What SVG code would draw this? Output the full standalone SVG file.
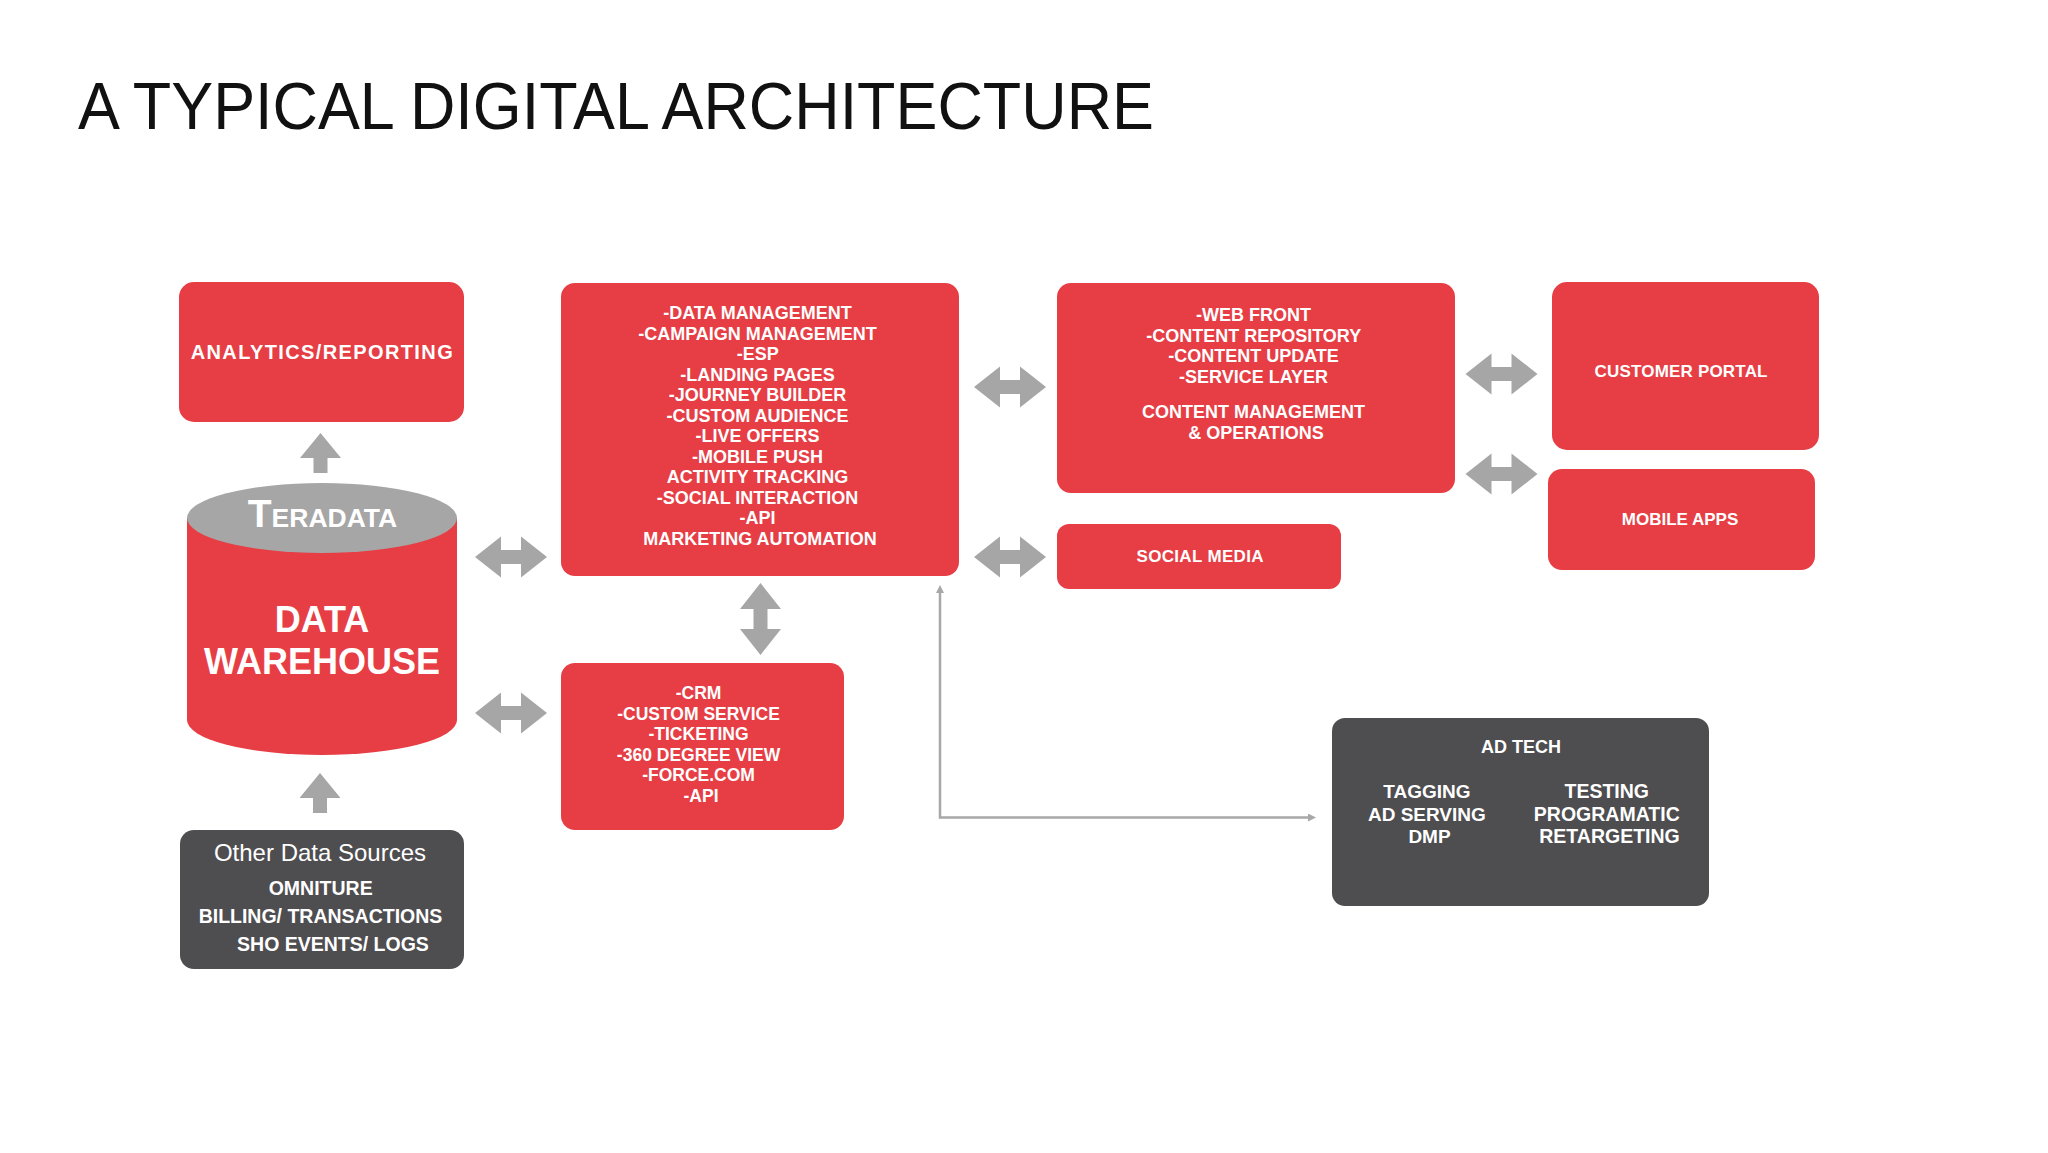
<svg xmlns="http://www.w3.org/2000/svg" width="2048" height="1153" viewBox="0 0 2048 1153">
<defs>
<style>
.red{fill:#E63E44;}
.dark{fill:#4E4D50;}
.arr{fill:#A6A6A6;}
.t{font-family:"Liberation Sans",Arial,sans-serif;font-weight:bold;fill:#FFFFFF;text-anchor:middle;}
.r{font-family:"Liberation Sans",Arial,sans-serif;font-weight:normal;fill:#FFFFFF;text-anchor:middle;}
.thin{fill:none;stroke:#A8A8A8;stroke-width:2.5;}
</style>
<path id="dbl" d="M-36,0 L-10,-20.5 L-10,-7 L10,-7 L10,-20.5 L36,0 L10,20.5 L10,7 L-10,7 L-10,20.5 Z"/>
<path id="up" d="M0,0 L20.5,25 L7,25 L7,40 L-7,40 L-7,25 L-20.5,25 Z"/>
<marker id="tri" viewBox="0 0 10 10" refX="0" refY="4" markerWidth="10" markerHeight="10" markerUnits="userSpaceOnUse" orient="auto-start-reverse">
<path d="M0,0 L8,4 L0,8 Z" fill="#A8A8A8"/>
</marker>
</defs>
<rect x="0" y="0" width="2048" height="1153" fill="#FFFFFF"/>

<text id="title" x="78" y="129" font-family="'Liberation Sans',Arial,sans-serif" font-size="66" fill="#111111" textLength="1076" lengthAdjust="spacingAndGlyphs">A TYPICAL DIGITAL ARCHITECTURE</text>

<g id="connectors">
<use href="#up" class="arr" x="320.5" y="433"/>
<use href="#up" class="arr" x="320" y="773"/>
<use href="#dbl" class="arr" x="511" y="557"/>
<use href="#dbl" class="arr" x="511" y="713"/>
<use href="#dbl" class="arr" x="1010" y="387"/>
<use href="#dbl" class="arr" x="1010" y="557"/>
<use href="#dbl" class="arr" x="1501.5" y="374"/>
<use href="#dbl" class="arr" x="1501.5" y="474"/>
<use href="#dbl" class="arr" transform="translate(760.5,619) rotate(90)"/>
<path class="thin" d="M940,593 L940,817.5 L1308,817.5" marker-start="url(#tri)" marker-end="url(#tri)"/>
</g>

<g id="analytics">
<rect class="red" x="179" y="282" width="285" height="140" rx="15"/>
<text class="t" x="321.7" y="359" font-size="20" textLength="262">ANALYTICS/REPORTING</text>
</g>

<g id="warehouse">
<path class="red" d="M187,518 L187,720 A135,35 0 0 0 457,720 L457,518 Z"/>
<ellipse cx="322" cy="518" rx="135" ry="35" fill="#A6A6A6"/>
<text class="t" x="322.5" y="527"><tspan font-size="39">T</tspan><tspan font-size="26.5">ERADATA</tspan></text>
<text class="t" x="322" y="632" font-size="36">DATA</text>
<text class="t" x="322" y="674" font-size="36">WAREHOUSE</text>
</g>

<g id="other-sources">
<rect class="dark" x="180" y="830" width="284" height="139" rx="14"/>
<text class="r" x="320" y="861" font-size="24">Other Data Sources</text>
<text class="t" x="320.7" y="895" font-size="19.5">OMNITURE</text>
<text class="t" x="320.5" y="923" font-size="19.5">BILLING/ TRANSACTIONS</text>
<text class="t" x="333" y="951" font-size="19.5">SHO EVENTS/ LOGS</text>
</g>

<g id="marketing">
<rect class="red" x="561" y="283" width="398" height="293" rx="14"/>
<text class="t" font-size="18">
<tspan x="760" y="319.3">-DATA MANAGEMENT</tspan>
<tspan x="760" y="339.8">-CAMPAIGN MANAGEMENT</tspan>
<tspan x="760" y="360.3">-ESP</tspan>
<tspan x="760" y="380.8">-LANDING PAGES</tspan>
<tspan x="760" y="401.3">-JOURNEY BUILDER</tspan>
<tspan x="760" y="421.8">-CUSTOM AUDIENCE</tspan>
<tspan x="760" y="442.3">-LIVE OFFERS</tspan>
<tspan x="760" y="462.8">-MOBILE PUSH</tspan>
<tspan x="760" y="483.3">ACTIVITY TRACKING</tspan>
<tspan x="760" y="503.8">-SOCIAL INTERACTION</tspan>
<tspan x="760" y="524.3">-API</tspan>
<tspan x="760" y="544.8">MARKETING AUTOMATION</tspan>
</text>
</g>

<g id="crm">
<rect class="red" x="561" y="663" width="283" height="167" rx="14"/>
<text class="t" font-size="17.5">
<tspan x="701" y="699">-CRM</tspan>
<tspan x="701" y="719.5">-CUSTOM SERVICE</tspan>
<tspan x="701" y="740">-TICKETING</tspan>
<tspan x="701" y="760.5">-360 DEGREE VIEW</tspan>
<tspan x="701" y="781">-FORCE.COM</tspan>
<tspan x="701" y="801.5">-API</tspan>
</text>
</g>

<g id="cms">
<rect class="red" x="1057" y="283" width="398" height="210" rx="14"/>
<text class="t" font-size="18">
<tspan x="1256" y="321.4">-WEB FRONT</tspan>
<tspan x="1256" y="342">-CONTENT REPOSITORY</tspan>
<tspan x="1256" y="362.3">-CONTENT UPDATE</tspan>
<tspan x="1256" y="382.7">-SERVICE LAYER</tspan>
<tspan x="1256" y="418">CONTENT MANAGEMENT</tspan>
<tspan x="1256" y="438.7">&amp; OPERATIONS</tspan>
</text>
</g>

<g id="social-media">
<rect class="red" x="1057" y="524" width="284" height="65" rx="12"/>
<text class="t" x="1200" y="562" font-size="17" textLength="127">SOCIAL MEDIA</text>
</g>

<g id="customer-portal">
<rect class="red" x="1552" y="282" width="267" height="168" rx="15"/>
<text class="t" x="1681" y="376.7" font-size="17" textLength="173">CUSTOMER PORTAL</text>
</g>

<g id="mobile-apps">
<rect class="red" x="1548" y="469" width="267" height="101" rx="14"/>
<text class="t" x="1680" y="525" font-size="17">MOBILE APPS</text>
</g>

<g id="ad-tech">
<rect class="dark" x="1332" y="718" width="377" height="188" rx="13"/>
<text class="t" x="1521" y="752.7" font-size="18">AD TECH</text>
<text class="t" font-size="19">
<tspan x="1429.5" y="798.3">TAGGING</tspan>
<tspan x="1429.5" y="820.6">AD SERVING</tspan>
<tspan x="1429.5" y="843.3">DMP</tspan>
</text>
<text class="t" font-size="19.5">
<tspan x="1609.5" y="798.3">TESTING</tspan>
<tspan x="1609.5" y="820.6">PROGRAMATIC</tspan>
<tspan x="1609.5" y="843.3">RETARGETING</tspan>
</text>
</g>
</svg>
